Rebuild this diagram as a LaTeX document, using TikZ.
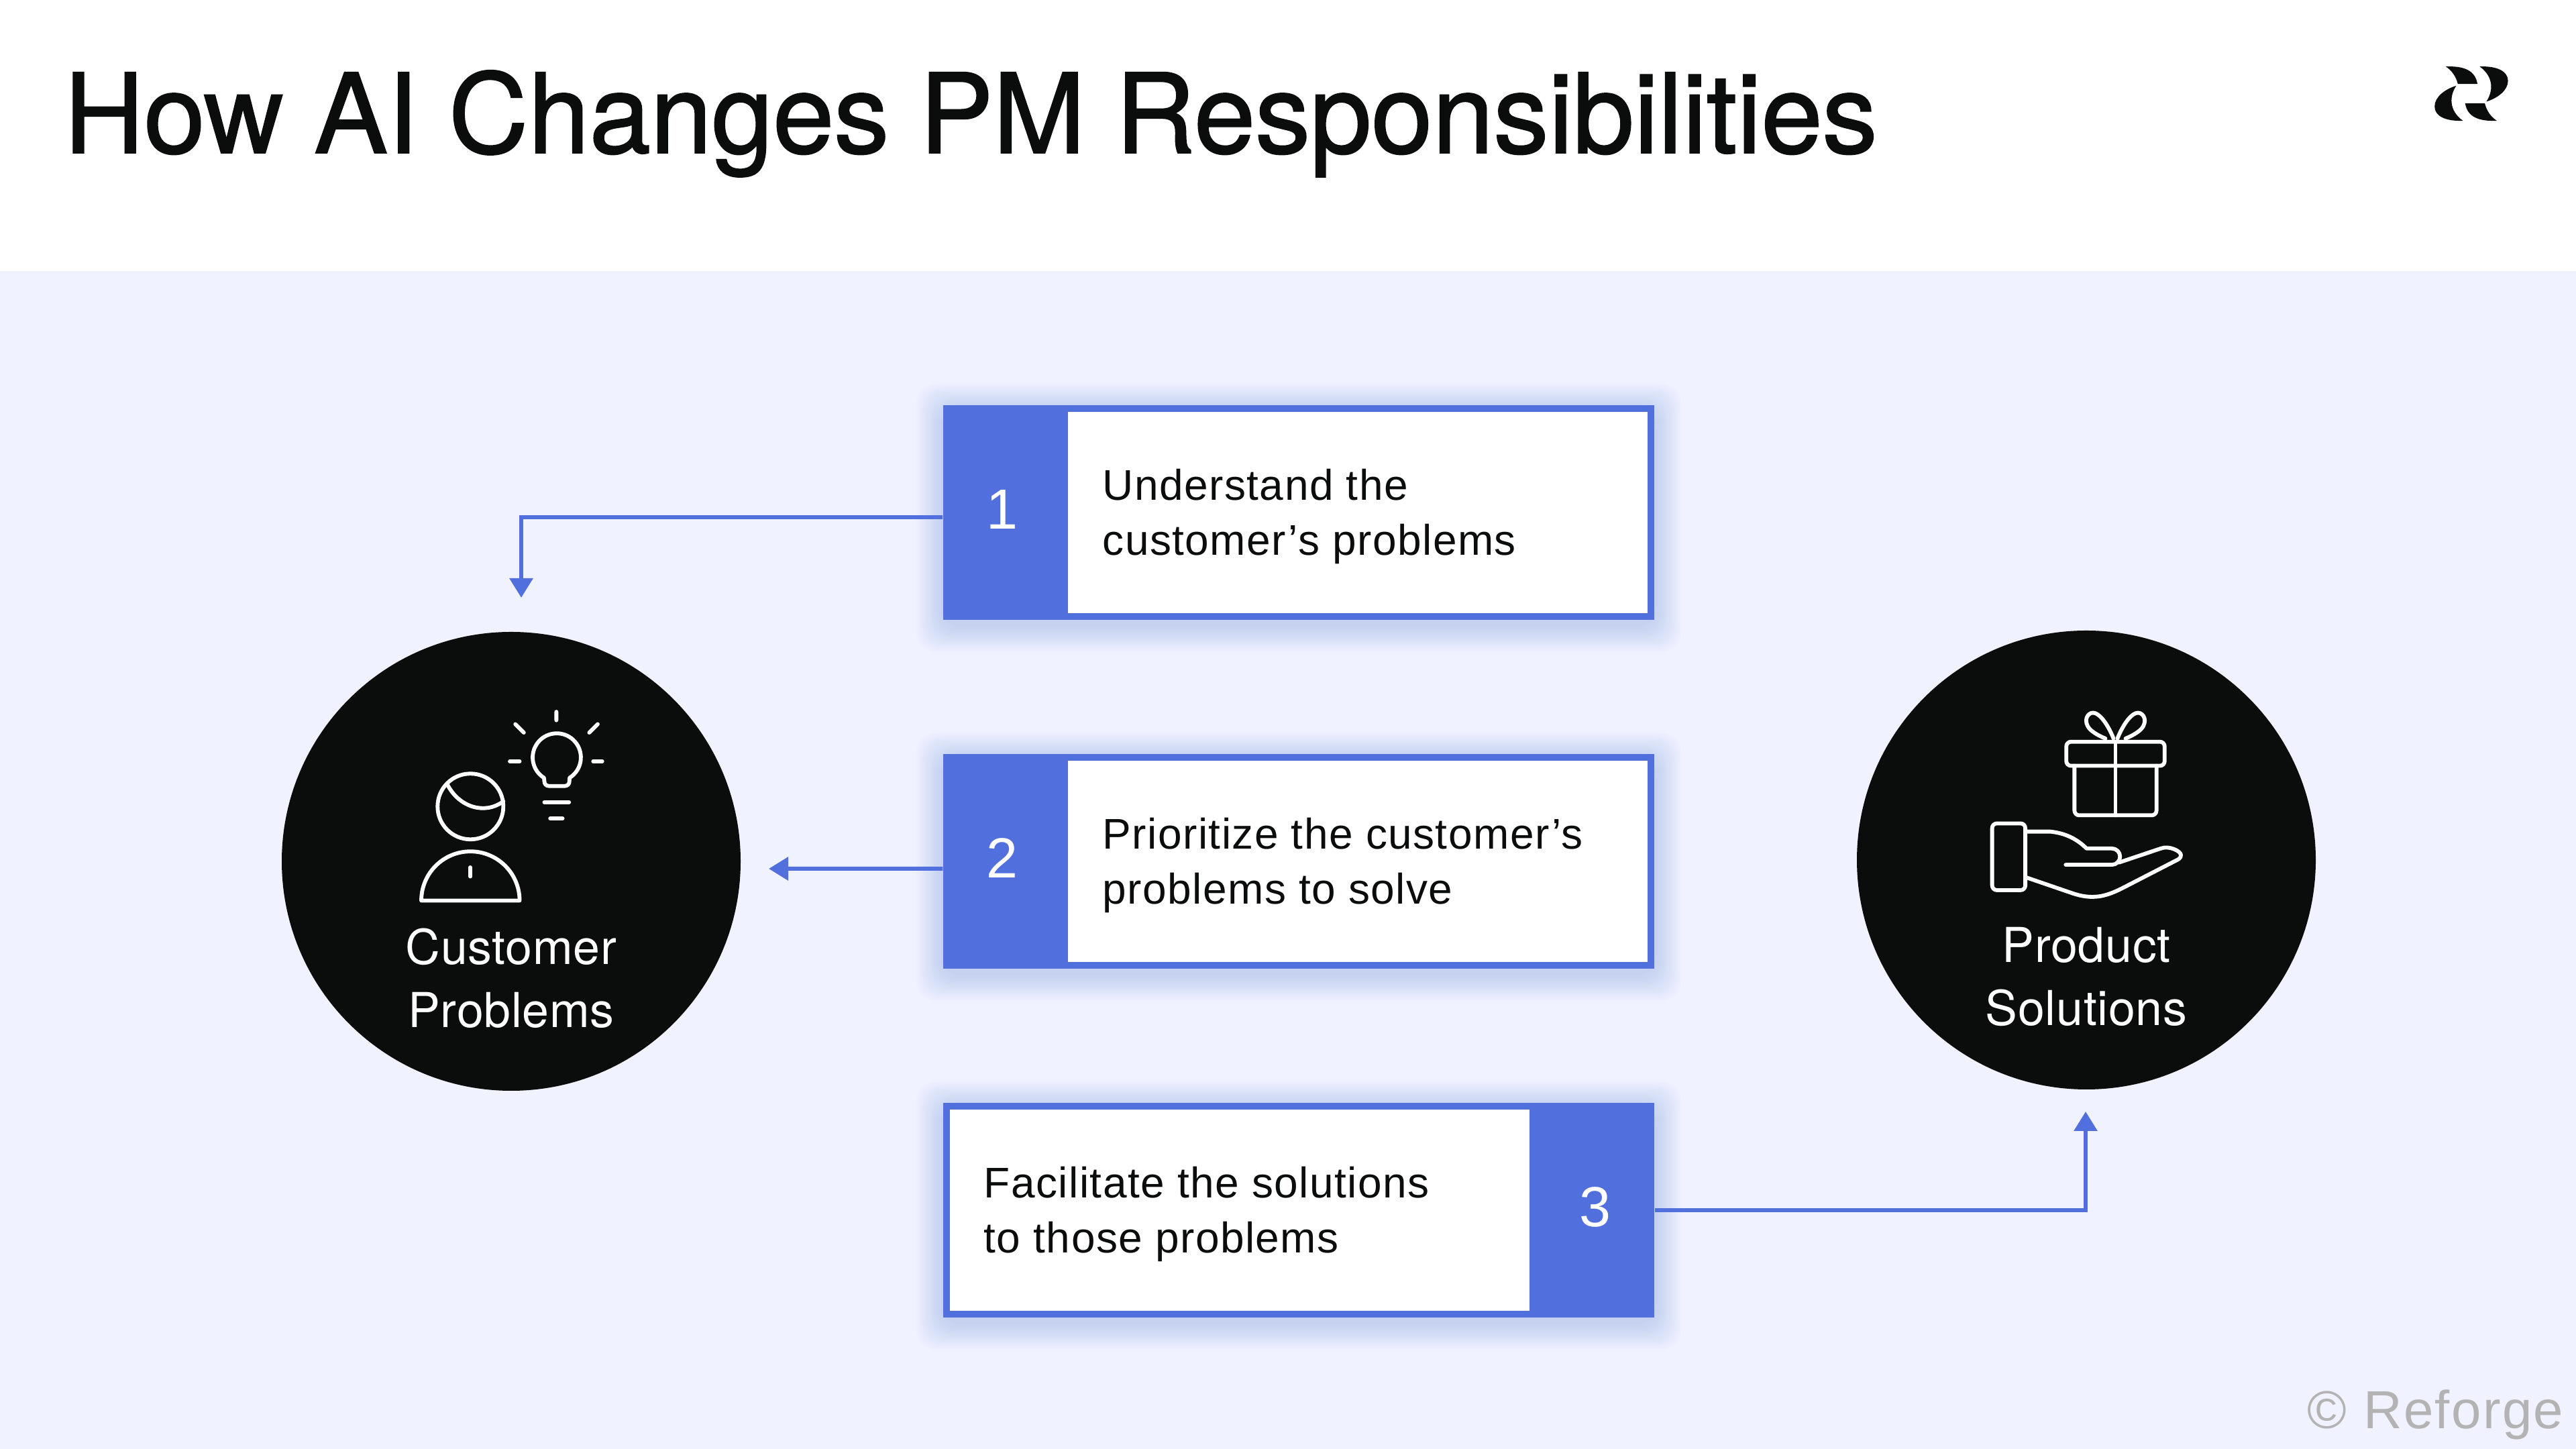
\documentclass[tikz,border=0pt]{standalone}
\usepackage{fontspec}
\setmainfont{Liberation Sans}
\newfontfamily\headfont{TeX Gyre Heros}
\usetikzlibrary{arrows.meta}
\definecolor{pageblue}{HTML}{F0F2FF}
\definecolor{cardblue}{HTML}{5170DD}
\definecolor{inkblack}{HTML}{0A0D0C}
\definecolor{markgrey}{HTML}{B3B3B3}
\tikzset{
  stepbox/.style={draw=cardblue,line width=0.1cm,fill=white,minimum width=10.5cm,minimum height=3.1cm},
  numcell/.style={fill=cardblue,text=white,minimum width=1.86cm,minimum height=3.2cm,inner sep=0pt,text height=0.6cm,text depth=0.1cm,font=\fontsize{24}{24}\selectfont},
  steptext/.style={text=inkblack,align=left,inner sep=0pt,font=\fontsize{18.2}{23.3}\selectfont\addfontfeature{LetterSpace=2.3}},
  topic/.style={circle,fill=inkblack,minimum size=6.84cm,inner sep=0pt},
  topictext/.style={text=white,align=center,inner sep=0pt,font=\headfont\fontsize{20.4}{26.7}\selectfont\addfontfeature{LetterSpace=1}},
  link/.style={draw=cardblue,line width=0.06cm,-{Triangle[length=0.29cm,width=0.34cm]}},
  icon/.style={draw=white,line width=0.058cm,line cap=round,line join=round}
}
\begin{document}
\begin{tikzpicture}
\useasboundingbox (0,0) rectangle (38.4,21.6);
\fill[white] (0,0) rectangle (38.4,21.6);
\fill[pageblue] (0,0) rectangle (38.4,17.56);
%
\node[anchor=base west,inner sep=0pt,text=inkblack,font=\headfont\fontsize{46.9}{46.9}\selectfont\addfontfeature{LetterSpace=-0.3,FakeBold=1.2}] (heading) at (0.95,19.32) {How AI Changes PM Responsibilities};
%
\foreach \ypos in {13.96,8.76,3.56}{
  \foreach \i in {1,...,16}{
    \fill[cardblue,opacity=0.015,rounded corners=0.3cm] (14.06-\i*0.025,\ypos-1.68-\i*0.025) rectangle (24.66+\i*0.025,\ypos+1.52+\i*0.025);
  }
}
%
\node[stepbox] (box1) at (19.36,13.96) {};
\node[numcell] (num1) at (14.99,13.96) {\kern-0.1cm 1};
\node[steptext,anchor=west] (text1) at (16.43,13.9) {Understand the\\customer’s problems};
\node[stepbox] (box2) at (19.36,8.76) {};
\node[numcell] (num2) at (14.99,8.76) {\kern-0.1cm 2};
\node[steptext,anchor=west] (text2) at (16.43,8.7) {Prioritize the customer’s\\problems to solve};
\node[stepbox] (box3) at (19.36,3.56) {};
\node[numcell] (num3) at (23.73,3.56) {\kern0.1cm 3};
\node[steptext,anchor=west] (text3) at (14.66,3.5) {Facilitate the solutions\\to those problems};
%
\node[topic] (customer) at (7.62,8.76) {};
\node[topic] (product) at (31.10,8.78) {};
\node[topictext] (customerlabel) at (7.62,7.02) {Customer\\Problems};
\node[topictext] (productlabel) at (31.10,7.04) {Product\\Solutions};
%
\coordinate (tip1) at (7.77,12.69);
\coordinate (tip2) at (11.46,8.65);
\coordinate (tip3) at (31.09,5.03);
\draw[link] ([yshift=-0.07cm]num1.west) -| (tip1);
\draw[link] ([yshift=-0.11cm]num2.west) -- (tip2);
\draw[link] (num3.east) -| (tip3);
%
\begin{scope}[shift={(4,12.6)},x=0.00485cm,y=-0.00485cm]
\draw[icon] (621,623) circle (101);
\draw[icon] (550,555) .. controls (585,625) and (665,650) .. (722,607);
\draw[icon] (470,912) arc (180:360:151) -- cycle;
\draw[icon] (621,810) -- (621,838);
\draw[icon] (847,535) arc (122:418:74) -- (925,546) arc (0:90:14) -- (862,560) arc (90:180:14) -- cycle;
\draw[icon] (885,332) -- (885,358) (759,370) -- (785,396) (1012,370) -- (986,396);
\draw[icon] (742,484) -- (772,484) (998,484) -- (1026,484);
\draw[icon] (848,610) -- (924,610) (866,660) -- (904,660);
\end{scope}
%
\begin{scope}[shift={(27.6,12.6)},x=0.00485cm,y=-0.00485cm]
\draw[icon,rounded corners=0.07cm] (660,424) rectangle (962,498);
\draw[icon,rounded corners=0.07cm] (685,498) -- (685,650) -- (937,650) -- (937,498);
\draw[icon] (811,424) -- (811,650);
\draw[icon] (805,414) .. controls (785,365) and (760,335) .. (742,335) .. controls (725,335) and (710,360) .. (732,385) .. controls (745,398) and (765,408) .. (780,414);
\draw[icon] (817,414) .. controls (837,365) and (862,335) .. (880,335) .. controls (897,335) and (912,360) .. (890,385) .. controls (877,398) and (857,408) .. (842,414);
\draw[icon,rounded corners=0.07cm] (432,675) rectangle (534,880);
\draw[icon] (534,700) -- (610,700) .. controls (660,705) and (695,725) .. (722,752) -- (800,752) arc (-90:90:25) -- (658,802);
\draw[icon] (822,795) -- (950,752) .. controls (975,742) and (1012,760) .. (1012,772) .. controls (1012,782) and (1005,785) .. (995,790) -- (830,875) .. controls (780,900) and (740,910) .. (680,890) -- (534,840);
\end{scope}
%
\begin{scope}[shift={(35.6,21.1)},x=0.00333cm,y=-0.00333cm]
\foreach \ang in {0,180}{
  \begin{scope}[rotate around={\ang:(372.5,269.5)}]
  \fill[inkblack] (258,148) .. controls (340,145) and (390,165) .. (400,226) -- (312,226) .. controls (305,195) and (285,165) .. (258,148) -- cycle;
  \fill[inkblack] (410,148) .. controls (490,145) and (537,170) .. (537,212) .. controls (537,255) and (490,290) .. (440,305) .. controls (470,260) and (475,195) .. (410,148) -- cycle;
  \end{scope}
}
\end{scope}
%
\node[anchor=base east,inner sep=0pt,text=markgrey,font=\fontsize{22.7}{22.7}\selectfont\addfontfeature{LetterSpace=3}] (credit) at (38.22,0.3) {© Reforge};
\end{tikzpicture}
\end{document}
